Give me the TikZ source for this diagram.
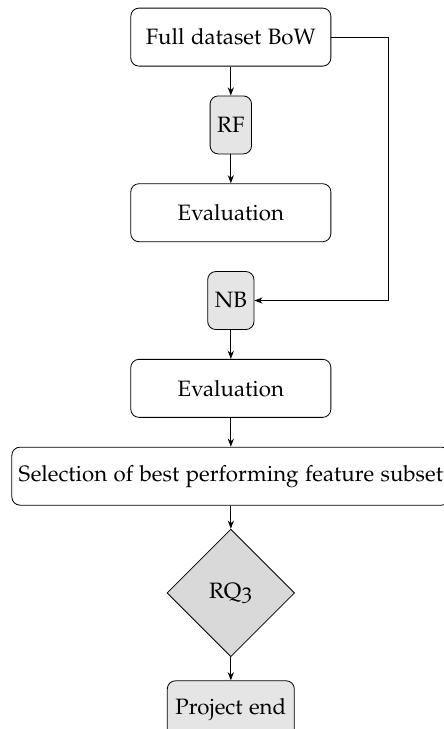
\documentclass[tikz,border=0pt]{standalone}
\usepackage[T1]{fontenc}
\usepackage[osf]{mathpazo}
\usepackage{tikz}
\usetikzlibrary{arrows.meta,positioning,shapes.geometric}

\tikzset{
  block/.style={draw,rounded corners,minimum height=1cm,minimum width=3.45cm,align=center},
  algo/.style={draw,rounded corners,fill=gray!20,minimum height=1cm,inner sep=3.5pt},
  decision/.style={draw,diamond,fill=gray!30,minimum width=2.2cm,minimum height=2.2cm,inner sep=0pt},
  line/.style={draw,-{Stealth[length=4pt]}}
}

\begin{document}
\begin{tikzpicture}[node distance=0.5cm,>=stealth,font=\fontsize{10.9}{13}\selectfont]
  \useasboundingbox (0,0) rectangle (7.64,-12.57);

  \node[block] (full) at (3.98,-0.64) {Full dataset BoW};
  \node[algo,below=of full] (rf) {RF};
  \node[block,below=of rf] (eval1) {Evaluation};
  \node[algo,below=of eval1] (nb) {NB};
  \node[block,below=of nb] (eval2) {Evaluation};
  \node[block,below=of eval2] (select) {Selection of best performing feature subset};
  \node[decision,below=0.4cm of select] (rq) {RQ3};
  \node[algo,below=0.4cm of rq,minimum width=2.19cm] (end) {Project end};

  % right branch to NB
  \coordinate (turn) at (6.69,0 |- full);
  \draw[line] (full) -- (rf);
  \draw[line] (rf) -- (eval1);
  \draw[line] (full.east) -- (turn) |- (nb.east);
  \draw[line] (nb) -- (eval2);
  \draw[line] (eval2) -- (select);
  \draw[line] (select) -- (rq);
  \draw[line] (rq) -- (end);
\end{tikzpicture}
\end{document}
